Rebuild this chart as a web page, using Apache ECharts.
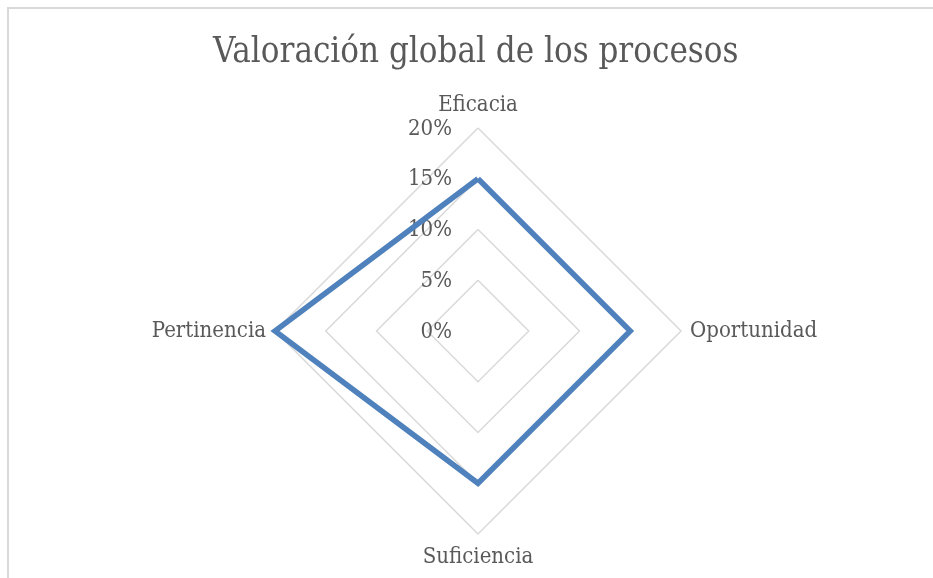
<!DOCTYPE html>
<html>
<head>
<meta charset="utf-8">
<script src="https://cdn.jsdelivr.net/npm/echarts@6/dist/echarts.min.js"></script>
<style>
  html, body { margin: 0; padding: 0; background: #fff; }
  #frame { position: absolute; left: 7px; top: 7px; width: 940px; height: 590px; border: 2px solid #d9d9d9; box-sizing: border-box; }
  #chart { position: absolute; left: 0; top: 0; width: 933px; height: 578px; }
</style>
</head>
<body>
<div id="frame"></div>
<div id="chart"></div>
<script>
// Overall process rating, share per criterion.
// Radar axes run counter-clockwise from the top, so the list goes
// top, left, bottom, right to read clockwise as Eficacia, Oportunidad, ...
const titleText = 'Valoración global de los procesos';
const criteria = ['Eficacia', 'Pertinencia', 'Suficiencia', 'Oportunidad'];
const ratings = [15, 20, 15, 15];
const scaleMax = 20;
const scaleStep = 5;

const FONT = '"DejaVu Serif Condensed", "DejaVu Serif", serif';
const TEXT = '#595959';

const chart = echarts.init(document.getElementById('chart'), null, { renderer: 'canvas' });

const indicator = criteria.map((name, i) => {
  const ind = { name: name, min: 0, max: scaleMax };
  if (i === 0) {
    // tick labels only along the first (vertical) axis
    ind.axisLabel = {
      show: true,
      formatter: v => '{t|' + v + '%}',
      margin: 26,
      rich: {
        t: { color: TEXT, fontFamily: FONT, fontSize: 22, padding: [2, 0, 0, 0] }
      }
    };
  }
  return ind;
});

chart.setOption({
  backgroundColor: 'transparent',
  title: {
    text: titleText,
    left: 208,
    top: 31,
    textStyle: { fontFamily: FONT, fontSize: 34.6, fontWeight: 'normal', color: TEXT }
  },
  radar: {
    center: [478, 331],
    radius: 203,
    startAngle: 90,
    splitNumber: scaleMax / scaleStep,
    shape: 'polygon',
    indicator: indicator,
    axisName: { color: TEXT, fontFamily: FONT, fontSize: 22, padding: [3, 0, 3, 0] },
    nameGap: 9,
    axisLine: { show: false },
    axisTick: { show: false },
    axisLabel: { show: false },
    splitArea: { show: false },
    splitLine: { lineStyle: { color: '#d9d9d9', width: 1.5 } }
  },
  series: [{
    type: 'radar',
    symbol: 'none',
    lineStyle: { color: '#4f81bd', width: 5.5, join: 'miter' },
    data: [{ value: ratings, name: titleText }]
  }]
});
</script>
</body>
</html>
